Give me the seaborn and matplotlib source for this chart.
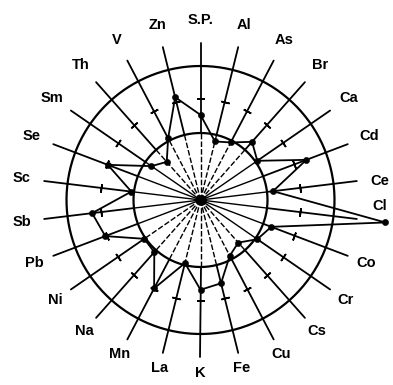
import numpy as np
import pandas as pd
import matplotlib
matplotlib.use("Agg")
import matplotlib.pyplot as plt
import seaborn as sns

# Element labels, clockwise from the top
elements = ["S.P.", "Al", "As", "Br", "Ca", "Cd", "Ce", "Cl", "Co", "Cr", "Cs",
            "Cu", "Fe", "K", "La", "Mn", "Na", "Ni", "Pb", "Sb", "Sc", "Se",
            "Sm", "Th", "V", "Zn"]
# Relative values (inner circle = 1, outer circle = 2)
values = [1.27, 0.90, 0.97, 1.16, 1.03, 1.69, 1.09, 2.78, 1.13, 1.03, 0.85,
          0.94, 1.28, 1.34, 0.97, 1.49, 1.04, 1.02, 1.52, 1.63, 1.04, 1.48,
          0.89, 0.76, 1.04, 1.58]
# Reference rings and the tick level marked on every axis
ring_levels = [1.0, 2.0]
tick_level = 1.5
axis_length = 2.35
# Axes whose inner part is drawn solid (the others are dashed)
solid_inner = {"Ca", "Cd", "Ce", "Cl", "Co", "Cr", "Pb", "Sb", "Sc", "Se", "Sm"}
# Angular nudge (degrees) for labels that would sit on a marker
label_nudge = {"Cl": -5.0, "Ce": 1.0}

sns.set_style("white")
plt.rcParams["font.family"] = ["Liberation Sans", "DejaVu Sans"]

W, H = 393, 385
fig = plt.figure(figsize=(W / 100, H / 100), dpi=100)
cx, cy, unit = 200.5, 200.0, 67.0
rpx = axis_length * unit
ax = fig.add_axes([(cx - rpx) / W, (H - cy - rpx) / H, 2 * rpx / W, 2 * rpx / H],
                  projection="polar")
ax.set_theta_zero_location("N")
ax.set_theta_direction(-1)
ax.set_ylim(0, axis_length)
ax.set_xticks([])
ax.set_yticks([])
ax.grid(False)
ax.spines["polar"].set_visible(False)
ax.patch.set_alpha(0)

n = len(elements)
theta = np.arange(n) * 2 * np.pi / n
df = pd.DataFrame({"element": elements, "theta": theta, "value": values})

# Rings
circ = np.linspace(0, 2 * np.pi, 400)
for lv in ring_levels:
    ax.plot(circ, np.full_like(circ, lv), color="black", lw=1.6, clip_on=False)

# Axes (spokes) with a tick mark on each
for name, t in zip(elements, theta):
    ls = "-" if name in solid_inner else (0, (4, 1.5))
    ax.plot([t, t], [0, ring_levels[0]], color="black", lw=1.0, ls=ls)
    ax.plot([t, t], [ring_levels[0], axis_length], color="black", lw=1.3,
            clip_on=False)
    ang = 90 - np.degrees(t)
    ax.plot([t], [tick_level], marker=(2, 2, ang), ms=6, mew=1.2,
            color="black", clip_on=False)
    lt = t + np.radians(label_nudge.get(name, 0.0))
    lr = 2.69 - 0.11 * max(0.0, -np.cos(t))
    ax.text(lt, lr, name, ha="center", va="center", fontsize=10.5,
            fontweight="bold", color="black")

# Profile polygon
closed = pd.concat([df, df.iloc[[0]].assign(theta=2 * np.pi)], ignore_index=True)
sns.lineplot(data=closed, x="theta", y="value", sort=False, estimator=None,
             color="black", lw=1.3, ax=ax, clip_on=False)
sns.scatterplot(data=df, x="theta", y="value", color="black", s=20,
                edgecolor="black", ax=ax, clip_on=False, zorder=5)
ax.scatter([0], [0], s=45, color="black", zorder=6)
ax.set_xlabel("")
ax.set_ylabel("")

fig.savefig("out.png", dpi=100)
